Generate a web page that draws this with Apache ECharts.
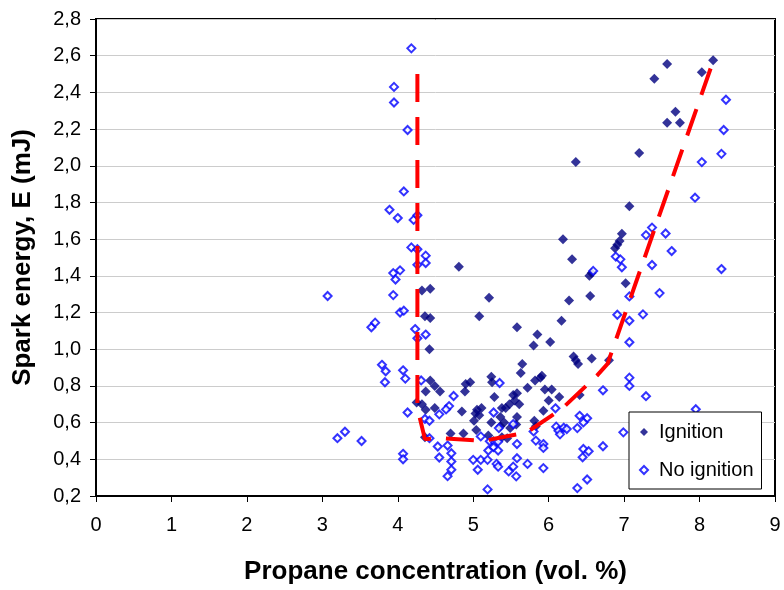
<!DOCTYPE html>
<html>
<head>
<meta charset="utf-8">
<script src="https://cdn.jsdelivr.net/npm/echarts@6/dist/echarts.min.js"></script>
<style>
html,body{margin:0;padding:0;background:#fff;}
#chart{width:784px;height:590px;}
</style>
</head>
<body>
<div id="chart"></div>
<script>
// Ignition points [propane vol.%, spark energy mJ]
const ignition = [
[4.25,0.71],[4.32,0.70],[4.37,0.67],[4.32,1.32],[4.43,1.33],[4.36,1.18],[4.43,1.17],[4.42,1.00],[4.37,0.77],[4.43,0.83],[4.49,0.80],[4.56,0.77],[4.49,0.68],[4.36,0.52],[4.81,1.45],
[4.96,0.82],[4.90,0.81],[4.89,0.77],[4.85,0.66],[4.70,0.54],[4.87,0.54],[5.08,1.18],[5.21,1.28],[5.58,1.12],[5.85,1.08],[5.80,1.02],[6.02,1.04],[5.65,0.92],[5.63,0.87],[5.72,0.79],
[5.24,0.85],[5.25,0.82],[5.28,0.74],[5.58,0.76],[5.53,0.75],[5.61,0.70],[5.55,0.72],[5.48,0.70],[5.43,0.68],[5.38,0.68],[5.05,0.67],[5.11,0.68],[5.03,0.65],[5.01,0.61],[5.08,0.64],
[5.24,0.60],[5.36,0.63],[5.41,0.60],[5.36,0.58],[5.58,0.63],[5.57,0.59],[5.49,0.57],[5.81,0.61],[5.83,0.58],[5.04,0.56],[5.20,0.53],[5.27,0.50],[5.38,0.52],[5.45,0.515],
[5.82,0.83],[5.89,0.845],[5.91,0.855],[5.95,0.78],[6.04,0.78],[6.00,0.72],[6.14,0.74],[5.93,0.665],[6.41,0.75],[6.33,0.96],[6.36,0.94],[6.39,0.92],[6.57,0.95],[6.80,0.94],
[6.17,1.155],[6.27,1.265],[6.55,1.29],[6.54,1.40],[6.57,1.415],[6.19,1.60],[6.31,1.49],[6.97,1.63],[6.94,1.59],[6.91,1.57],[6.88,1.55],[7.02,1.36],[7.07,1.78],[7.20,2.07],[6.36,2.02],
[7.40,2.475],[7.57,2.555],[8.03,2.51],[8.18,2.575],[7.68,2.295],[7.57,2.235],[7.74,2.235]
];
// No ignition points
const noIgnition = [
[3.07,1.29],[3.20,0.515],[3.30,0.55],[3.52,0.50],[3.65,1.12],[3.70,1.145],[3.79,0.915],[3.84,0.88],[3.83,0.82],[3.94,1.415],[4.03,1.43],[3.97,1.38],[3.94,1.295],[4.03,1.20],[4.08,1.21],
[4.07,0.885],[4.10,0.84],[4.07,0.43],[4.07,0.40],[4.13,0.655],[4.23,1.11],[4.26,1.06],[4.37,1.08],[4.31,0.83],[4.36,0.62],[4.42,0.61],[4.42,0.515],[4.53,0.47],[4.55,0.41],
[4.37,1.51],[4.26,1.46],[4.37,1.47],[4.18,2.64],[3.95,2.43],[3.95,2.345],[4.13,2.195],[4.08,1.86],[3.89,1.76],[4.00,1.715],[4.21,1.705],[4.26,1.73],[4.18,1.555],[4.26,1.545],
[4.74,0.745],[4.68,0.69],[4.64,0.672],[4.55,0.645],[4.66,0.475],[4.71,0.433],[4.71,0.388],[4.71,0.343],[4.66,0.308],[5.35,0.816],[5.27,0.655],[5.34,0.57],[5.53,0.592],[5.10,0.525],
[5.22,0.498],[5.29,0.493],[5.33,0.496],[5.27,0.466],[5.33,0.448],[5.20,0.448],[5.00,0.397],[5.10,0.397],[5.19,0.397],[5.06,0.343],[5.31,0.375],[5.33,0.36],[5.58,0.483],[5.58,0.406],
[5.53,0.36],[5.47,0.334],[5.57,0.307],[5.72,0.375],[5.19,0.236],[5.80,0.552],[5.83,0.502],
[7.07,1.288],[6.91,1.188],[7.07,1.155],[7.25,1.19],[7.07,1.038],[7.07,0.845],[7.07,0.80],[6.72,0.776],[7.29,0.744],[6.09,0.678],[6.41,0.637],[6.51,0.624],[6.46,0.601],[6.10,0.578],
[6.13,0.556],[6.15,0.536],[6.20,0.572],[6.24,0.565],[6.38,0.57],[5.93,0.483],[5.93,0.462],[6.99,0.547],[6.72,0.471],[6.46,0.456],[6.53,0.444],[6.45,0.411],[5.93,0.352],[6.51,0.29],[6.38,0.243],
[7.37,1.663],[7.29,1.622],[7.55,1.631],[7.63,1.535],[6.89,1.505],[6.95,1.49],[6.97,1.447],[7.37,1.459],[8.29,1.437],[6.59,1.427],[7.47,1.306],[7.95,0.673],[8.35,2.36],[8.32,2.195],[8.29,2.065],[8.03,2.02],[7.94,1.826]
];
// Red dashed limit curve
const limitCurve = [
[4.26,2.5],[4.26,0.68],[4.36,0.51],[4.6,0.515],[5.13,0.50],[5.38,0.52],[5.71,0.547],[6.18,0.677],[6.64,0.856],[6.78,0.92],[8.18,2.57]
];
const xTicks = [0,1,2,3,4,5,6,7,8,9];
const yTicks = [0.2,0.4,0.6,0.8,1.0,1.2,1.4,1.6,1.8,2.0,2.2,2.4,2.6,2.8];

const FONT = "'Liberation Sans', Arial, sans-serif";
const chart = echarts.init(document.getElementById('chart'), null, {renderer:'canvas'});
chart.setOption({
  animation:false,
  backgroundColor:'#fff',
  grid:{left:96, right:9, top:19, bottom:91, show:true, borderColor:'#000', borderWidth:2, backgroundColor:'transparent'},
  xAxis:{
    type:'value', min:xTicks[0], max:xTicks[xTicks.length-1], interval:1,
    name:'Propane concentration (vol. %)', nameLocation:'middle', nameGap:63,
    nameTextStyle:{fontFamily:FONT, fontSize:26, fontWeight:'bold', color:'#000'},
    axisLine:{show:true, onZero:false, lineStyle:{color:'#000', width:2}},
    axisTick:{show:true, inside:false, length:6, lineStyle:{color:'#000', width:1}},
    axisLabel:{fontFamily:FONT, fontSize:20, color:'#000', margin:19},
    splitLine:{show:false}
  },
  yAxis:{
    type:'value', min:yTicks[0], max:yTicks[yTicks.length-1], interval:0.2,
    name:'Spark energy, E (mJ)', nameLocation:'middle', nameGap:60,
    nameTextStyle:{fontFamily:FONT, fontSize:26, fontWeight:'bold', color:'#000'},
    axisLine:{show:true, onZero:false, lineStyle:{color:'#000', width:2}},
    axisTick:{show:true, inside:false, length:6, lineStyle:{color:'#000', width:1}},
    axisLabel:{fontFamily:FONT, fontSize:20, color:'#000', margin:15,
      formatter:v=>v.toFixed(1).replace('.', ',')},
    splitLine:{show:true, lineStyle:{color:'#cccccc', width:1}}
  },
  legend:{
    data:['Ignition','No ignition'], orient:'vertical', left:629, top:412,
    padding:[10,8,9,10], itemGap:18, itemWidth:8, itemHeight:8,
    backgroundColor:'#fff', borderColor:'#000', borderWidth:1,
    textStyle:{fontFamily:FONT, fontSize:20, color:'#000', padding:[0,0,0,6]}
  },
  series:[
    {name:'Ignition', type:'scatter', symbol:'diamond', symbolSize:10, data:ignition,
     itemStyle:{color:'#000080'}, z:2},
    {name:'No ignition', type:'scatter', symbol:'diamond', symbolSize:8, data:noIgnition,
     itemStyle:{color:'#ffffff', borderColor:'#0000ff', borderWidth:2}, z:3},
    {name:'limit', type:'line', data:limitCurve, symbol:'none', silent:true, z:4,
     lineStyle:{color:'#ff0000', width:4, type:[28,15]}}
  ]
});
</script>
</body>
</html>
